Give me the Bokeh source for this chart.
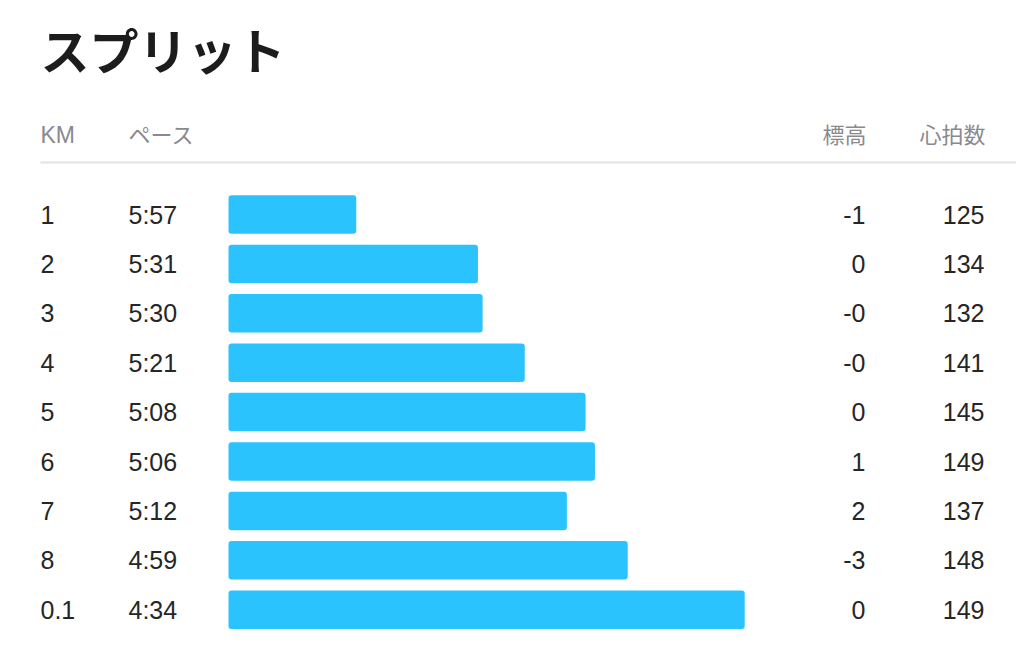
from bokeh.plotting import figure
from bokeh.models import Range1d, ColumnDataSource
from bokeh.core.properties import value
from bokeh.embed import file_html
from bokeh.resources import INLINE

# ---- data ----
title = "スプリット"
headers = ["KM", "ペース", "標高", "心拍数"]
km_labels = ["1", "2", "3", "4", "5", "6", "7", "8", "0.1"]
pace_labels = ["5:57", "5:31", "5:30", "5:21", "5:08", "5:06", "5:12", "4:59", "4:34"]
elevation = ["-1", "0", "-0", "-0", "0", "1", "2", "-3", "0"]
heart_rate = [125, 134, 132, 141, 145, 149, 137, 148, 149]

pace_seconds = [int(s.split(":")[0]) * 60 + int(s.split(":")[1]) for s in pace_labels]
rows = list(range(len(km_labels)))

W, H = 1016, 660
p = figure(width=W, height=H, output_backend="svg", toolbar_location=None,
           x_range=Range1d(0, W), y_range=Range1d(H, 0),
           min_border=0, outline_line_color=None)
p.axis.visible = False
p.grid.visible = False
p.background_fill_color = "white"
p.border_fill_color = "white"

# scales for data: pace (seconds, slower -> shorter bar) and row index
base = 384.3
px_per_s = 4.68
p.extra_x_ranges = {"pace": Range1d(base + 228 / px_per_s, base - (W - 228) / px_per_s)}
row_step = 49.4
row0 = 214
p.extra_y_ranges = {"row": Range1d((H - row0) / row_step, (0 - row0) / row_step)}

src = ColumnDataSource(dict(row=rows, km=km_labels, pace=pace_labels, sec=pace_seconds,
                            elev=elevation, hr=[str(h) for h in heart_rate],
                            base=[base] * len(rows)))

p.hbar(y="row", left="base", right="sec", height=0.78, source=src,
       x_range_name="pace", y_range_name="row",
       fill_color="#2BC3FE", line_color=None, border_radius=3)

num_font = value("Liberation Sans")
jp_font = value("Noto Sans CJK JP")
txt_color = "#262626"
fs = "25px"

p.text(x=40, y="row", text="km", source=src, y_range_name="row",
       text_font=num_font, text_font_size=fs, text_color=txt_color,
       text_baseline="middle", text_align="left")
p.text(x=128, y="row", text="pace", source=src, y_range_name="row",
       text_font=num_font, text_font_size=fs, text_color=txt_color,
       text_baseline="middle", text_align="left")
p.text(x=865, y="row", text="elev", source=src, y_range_name="row",
       text_font=num_font, text_font_size=fs, text_color=txt_color,
       text_baseline="middle", text_align="right")
p.text(x=984, y="row", text="hr", source=src, y_range_name="row",
       text_font=num_font, text_font_size=fs, text_color=txt_color,
       text_baseline="middle", text_align="right")

# headers
hdr_color = "#8a8a8e"
p.text(x=[40], y=[134], text=[headers[0]], text_font=num_font, text_font_size="23px",
       text_color=hdr_color, text_baseline="middle", text_align="left")
p.text(x=[128], y=[132], text=[headers[1]], text_font=jp_font, text_font_size="22px",
       text_color=hdr_color, text_baseline="middle", text_align="left")
p.text(x=[866], y=[132], text=[headers[2]], text_font=jp_font, text_font_size="22px",
       text_color=hdr_color, text_baseline="middle", text_align="right")
p.text(x=[985], y=[132], text=[headers[3]], text_font=jp_font, text_font_size="22px",
       text_color=hdr_color, text_baseline="middle", text_align="right")

# separator
p.segment(x0=[40], y0=[162], x1=[W], y1=[162], line_color="#e2e2e2", line_width=2)

# title
p.text(x=[40], y=[48], text=[title], text_font=jp_font, text_font_size="49px",
       text_font_style="bold", text_color="#1c1c1c", text_baseline="middle", text_align="left")

open("out.html", "w").write(file_html(p, INLINE))
